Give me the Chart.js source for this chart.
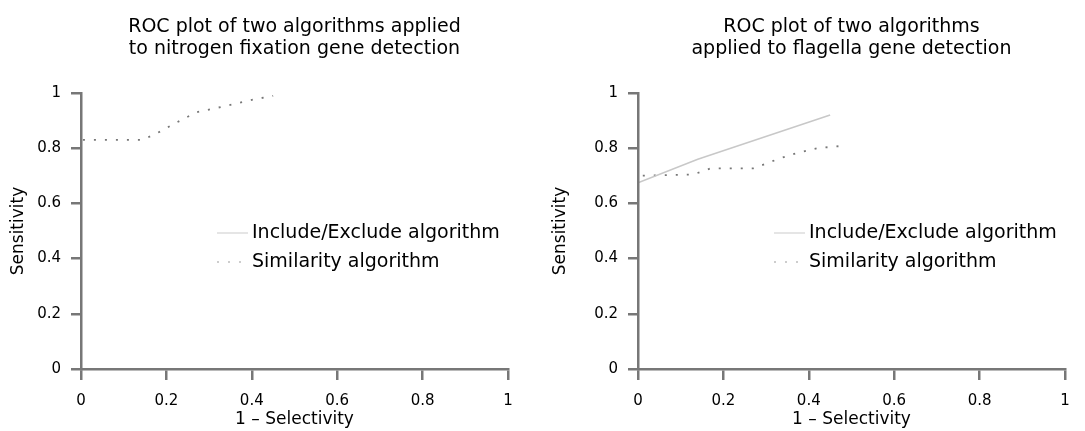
<!DOCTYPE html>
<html>
<head>
<meta charset="utf-8">
<script src="https://cdn.jsdelivr.net/npm/chart.js@4"></script>
<style>
body { margin: 0; background: #fff; width: 1085px; height: 431px; overflow: hidden; position: relative; }
canvas { position: absolute; top: 0; }
</style>
</head>
<body>
<canvas id="nifChart" width="542" height="431" style="left:0"></canvas>
<canvas id="flaChart" width="543" height="431" style="left:542px"></canvas>
<script>
const axisTicks = [0, 0.2, 0.4, 0.6, 0.8, 1];
const axisTickLabels = ['0', '0.2', '0.4', '0.6', '0.8', '1'];
const seriesNames = ['Include/Exclude algorithm', 'Similarity algorithm'];
const xTitle = '1 – Selectivity';
const yTitle = 'Sensitivity';

// nitrogen fixation panel
const nifTitle = ['ROC plot of two algorithms applied', 'to nitrogen fixation gene detection'];
const nifIncludeX = [0, 0];
const nifIncludeY = [0, 1];
const nifSimilarityX = [0, 0, 0.145, 0.185, 0.22, 0.27, 0.33, 0.40, 0.45];
const nifSimilarityY = [0, 0.83, 0.83, 0.86, 0.89, 0.93, 0.95, 0.975, 0.99];

// flagella panel
const flaTitle = ['ROC plot of two algorithms', 'applied to flagella gene detection'];
const flaIncludeX = [0, 0, 0.14, 0.45];
const flaIncludeY = [0, 0.675, 0.76, 0.92];
const flaSimilarityX = [0, 0, 0.13, 0.17, 0.27, 0.29, 0.33, 0.375, 0.42, 0.49];
const flaSimilarityY = [0, 0.70, 0.705, 0.727, 0.727, 0.738, 0.762, 0.784, 0.80, 0.81];

const FONT = '"DejaVu Sans", sans-serif';
const axisGray = '#777';

function toPoints(xs, ys) {
    return xs.map((x, i) => ({ x: x, y: ys[i] }));
}

// title lines and in-plot legend
const titleAndLegend = {
    id: 'titleAndLegend',
    afterDraw(chart, args, opts) {
        const ctx = chart.ctx;
        const area = chart.chartArea;
        ctx.save();
        ctx.fillStyle = '#000';
        ctx.font = '19px ' + FONT;
        ctx.textAlign = 'center';
        ctx.textBaseline = 'middle';
        opts.lines.forEach((t, i) => ctx.fillText(t, (area.left + area.right) / 2, 27 + i * 22));

        ctx.textAlign = 'left';
        chart.data.datasets.forEach((ds, i) => {
            const y = area.top + 140 + i * 29;
            const x0 = area.left + 136;
            ctx.beginPath();
            ctx.strokeStyle = opts.legendColors[i];
            ctx.lineWidth = 1.5;
            ctx.setLineDash(ds.borderDash || []);
            ctx.moveTo(x0, y);
            ctx.lineTo(x0 + 31, y);
            ctx.stroke();
            ctx.setLineDash([]);
            ctx.fillText(ds.label, x0 + 35, y);
        });
        ctx.restore();
    }
};

function makeChart(id, title, incX, incY, simX, simY, yWidth, rightPad) {
    const ctx = document.getElementById(id).getContext('2d');
    return new Chart(ctx, {
        type: 'scatter',
        data: {
            datasets: [{
                label: seriesNames[0],
                data: toPoints(incX, incY),
                showLine: true,
                borderColor: '#c8c8c8',
                borderWidth: 1.5,
                pointRadius: 0,
                clip: 8
            }, {
                label: seriesNames[1],
                data: toPoints(simX, simY),
                showLine: true,
                borderColor: '#777',
                borderWidth: 1.8,
                borderDash: [2, 9],
                pointRadius: 0,
                clip: 8
            }]
        },
        options: {
            responsive: false,
            animation: false,
            events: [],
            layout: { padding: { top: 93, right: rightPad, left: 0, bottom: 0 } },
            plugins: {
                legend: { display: false },
                tooltip: { enabled: false },
                titleAndLegend: { lines: title, legendColors: ['#dcdcdc', '#bdbdbd'] }
            },
            scales: {
                x: {
                    type: 'linear',
                    min: 0,
                    max: 1,
                    afterBuildTicks: s => { s.ticks = axisTicks.map(v => ({ value: v })); },
                    afterFit: s => { s.height = 62; },
                    border: { color: axisGray, width: 2.5 },
                    grid: { drawOnChartArea: false, color: axisGray, lineWidth: 2.5, tickLength: 11 },
                    ticks: {
                        color: '#000', font: { family: FONT, size: 15 }, padding: 12, maxRotation: 0,
                        callback: (v, i) => axisTickLabels[i]
                    },
                    title: { display: true, text: xTitle, color: '#000', font: { family: FONT, size: 17 }, padding: { top: 0, bottom: 1 } }
                },
                y: {
                    type: 'linear',
                    min: 0,
                    max: 1,
                    z: 1,
                    afterBuildTicks: s => { s.ticks = axisTicks.map(v => ({ value: v })); },
                    afterFit: s => { s.width = yWidth; },
                    border: { color: axisGray, width: 2.5, z: 1 },
                    grid: { drawOnChartArea: false, color: axisGray, lineWidth: 2.5, tickLength: 10, z: 1 },
                    ticks: {
                        color: '#000', font: { family: FONT, size: 15 }, padding: 10,
                        callback: (v, i) => axisTickLabels[i]
                    },
                    title: { display: true, text: yTitle, color: '#000', font: { family: FONT, size: 17 }, padding: { top: 8, bottom: 0 } }
                }
            }
        },
        plugins: [titleAndLegend]
    });
}

makeChart('nifChart', nifTitle, nifIncludeX, nifIncludeY, nifSimilarityX, nifSimilarityY, 81, 34);
makeChart('flaChart', flaTitle, flaIncludeX, flaIncludeY, flaSimilarityX, flaSimilarityY, 96, 20);
</script>
</body>
</html>
